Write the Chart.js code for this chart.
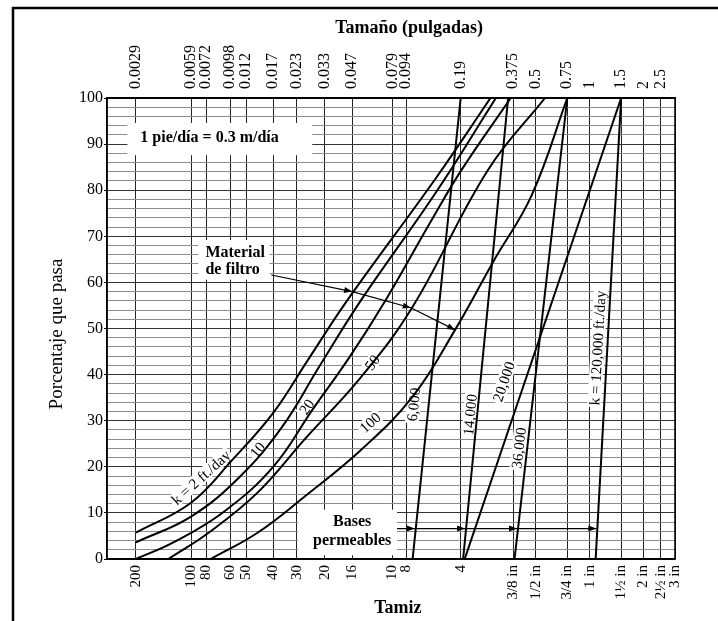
<!DOCTYPE html>
<html>
<head>
<meta charset="utf-8">
<title>Material de filtro - granulometría</title>
<script src="https://cdn.jsdelivr.net/npm/chart.js@4.4.1/dist/chart.umd.min.js"></script>
<style>
    html, body { margin: 0; padding: 0; background: #fff; }
    #wrap { width: 718px; height: 621px; position: relative; }
</style>
</head>
<body>
<div id="wrap"><canvas id="grad-chart"></canvas></div>
<script>
// tamices (eje inferior) y tamaños en pulgadas (eje superior)
const sieveLabels = ['200', '100', '80', '60', '50', '40', '30', '20', '16', '10', '8', '4',
    '3/8 in', '1/2 in', '3/4 in', '1 in', '1½ in', '2 in', '2½ in', '3 in'];
const sieveSizes = [0.0029, 0.0059, 0.0072, 0.0098, 0.012, 0.017, 0.023, 0.033, 0.047, 0.079, 0.094, 0.19,
    0.375, 0.5, 0.75, 1, 1.5, 2, 2.5, 3];
const sizeLabels = ['0.0029', '0.0059', '0.0072', '0.0098', '0.012', '0.017', '0.023', '0.033', '0.047',
    '0.079', '0.094', '0.19', '0.375', '0.5', '0.75', '1', '1.5', '2', '2.5'];
const sizeValues = [0.0029, 0.0059, 0.0072, 0.0098, 0.012, 0.017, 0.023, 0.033, 0.047,
    0.079, 0.094, 0.19, 0.375, 0.5, 0.75, 1, 1.5, 2, 2.5];

// material de filtro (curvas), tamaño en pulgadas / % que pasa
const k2Size = [0.0029, 0.0059, 0.0101, 0.017, 0.0266, 0.0443, 0.1386, 0.279];
const k2Pass = [5.7, 12.2, 21.6, 31.7, 43.2, 56.2, 82.7, 100];
const k10Size = [0.0029, 0.0059, 0.0111, 0.0191, 0.0307, 0.0528, 0.1386, 0.299];
const k10Pass = [3.6, 9.2, 17.9, 28.7, 41.7, 56.2, 79.6, 100];
const k20Size = [0.0029, 0.0047, 0.0089, 0.017, 0.0282, 0.0456, 0.0724, 0.1288, 0.1921, 0.362];
const k20Pass = [0, 3.6, 10.1, 20.0, 32.4, 43.9, 56.2, 73.1, 84.4, 100];
const k50Size = [0.0044, 0.0074, 0.0139, 0.0254, 0.0528, 0.1023, 0.270, 0.563];
const k50Pass = [0, 5.7, 14.4, 25.9, 39.5, 54.7, 84.4, 100];
const k100Size = [0.0076, 0.0139, 0.0254, 0.0528, 0.1023, 0.1767, 0.289, 0.475, 0.75];
const k100Pass = [0, 5.7, 13.5, 23.7, 35.2, 49.7, 64.5, 79.0, 100];

// bases permeables (rectas)
const k6000Size = [0.1023, 0.19];
const k14000Size = [0.196, 0.35];
const k20000Size = [0.2, 1.5];
const k36000Size = [0.38, 0.75];
const k120000Size = [1.08, 1.5];
const linePass = [0, 100];

const SERIF = "'Liberation Serif', 'Times New Roman', serif";
Chart.defaults.font.family = SERIF;
Chart.defaults.color = '#000';

function toPoints(sizes, pass) {
    return sizes.map((s, i) => ({ x: s, y: pass[i] }));
}

function curve(label, sizes, pass) {
    return {
        label: label,
        data: toPoints(sizes, pass),
        borderColor: '#000',
        borderWidth: 2,
        pointRadius: 0,
        tension: 0.4,
        fill: false
    };
}

function straight(label, sizes) {
    return {
        label: label,
        data: toPoints(sizes, linePass),
        borderColor: '#000',
        borderWidth: 2,
        pointRadius: 0,
        tension: 0,
        fill: false
    };
}

// etiquetas sobre las curvas (en coordenadas de datos)
const curveLabels = [
    { text: 'k = 2 ft./day', x: 0.0067, y: 17.7, rot: -42 },
    { text: '10', x: 0.0139, y: 23.7, rot: -50 },
    { text: '20', x: 0.0262, y: 33.0, rot: -55 },
    { text: '50', x: 0.0609, y: 42.6, rot: -55 },
    { text: '100', x: 0.0592, y: 29.6, rot: -42 }
];
const lineLabels = [
    { text: '6,000', sizes: k6000Size, x: 0.1036, y: 33.5 },
    { text: '14,000', sizes: k14000Size, x: 0.2145, y: 31.3 },
    { text: '20,000', sizes: k20000Size, x: 0.331, y: 38.5 },
    { text: '36,000', sizes: k36000Size, x: 0.4013, y: 24.1 },
    { text: 'k = 120,000 ft./day', sizes: k120000Size, x: 1.107, y: 45.8 }
];

const whiteBoxes = [
    { x0: 0.0026, x1: 0.0281, y0: 87.6, y1: 94.6 },
    { x0: 0.00648, x1: 0.0162, y0: 60.6, y1: 69.2 },
    { x0: 0.0234, x1: 0.0837, y0: 0.8, y1: 10.7 }
];

function labelAngle(chart, item) {
    if (!item.sizes) return item.rot * Math.PI / 180;
    const xs = chart.scales.x, ys = chart.scales.y;
    const x0 = xs.getPixelForValue(item.sizes[0]), x1 = xs.getPixelForValue(item.sizes[1]);
    const y0 = ys.getPixelForValue(linePass[0]), y1 = ys.getPixelForValue(linePass[1]);
    return Math.atan2(y1 - y0, x1 - x0);
}

function arrowHead(ctx, x, y, ang) {
    ctx.save();
    ctx.translate(x, y);
    ctx.rotate(ang);
    ctx.beginPath();
    ctx.moveTo(0, 0);
    ctx.lineTo(-8, -3);
    ctx.lineTo(-8, 3);
    ctx.closePath();
    ctx.fill();
    ctx.restore();
}

const annotations = {
    id: 'annotations',
    beforeDraw(chart) {
        const ctx = chart.ctx;
        ctx.save();
        ctx.strokeStyle = '#000';
        ctx.lineWidth = 2.5;
        ctx.strokeRect(13, 8, chart.width + 40, chart.height + 40);
        ctx.restore();
    },
    beforeDatasetsDraw(chart) {
        const ctx = chart.ctx, xs = chart.scales.x, ys = chart.scales.y;
        ctx.save();
        ctx.fillStyle = '#fff';
        whiteBoxes.forEach(b => {
            const l = xs.getPixelForValue(b.x0), r = xs.getPixelForValue(b.x1);
            const t = ys.getPixelForValue(b.y1), bt = ys.getPixelForValue(b.y0);
            ctx.fillRect(l, t, r - l, bt - t);
        });
        ctx.font = '15px ' + SERIF;
        curveLabels.concat(lineLabels).forEach(item => {
            const w = ctx.measureText(item.text).width;
            ctx.save();
            ctx.translate(xs.getPixelForValue(item.x), ys.getPixelForValue(item.y));
            ctx.rotate(labelAngle(chart, item));
            ctx.fillRect(-w / 2 - 2, -7, w + 4, 14);
            ctx.restore();
        });
        ctx.restore();
    },
    afterDatasetsDraw(chart) {
        const ctx = chart.ctx, xs = chart.scales.x, ys = chart.scales.y;
        const area = chart.chartArea;
        ctx.save();
        ctx.fillStyle = '#000';
        ctx.strokeStyle = '#000';

        // textos rotados
        ctx.font = '15px ' + SERIF;
        ctx.textAlign = 'center';
        ctx.textBaseline = 'middle';
        curveLabels.concat(lineLabels).forEach(item => {
            ctx.save();
            ctx.translate(xs.getPixelForValue(item.x), ys.getPixelForValue(item.y));
            ctx.rotate(labelAngle(chart, item));
            ctx.fillText(item.text, 0, 1);
            ctx.restore();
        });

        // notas en negrita
        ctx.font = 'bold 16px ' + SERIF;
        ctx.textAlign = 'left';
        ctx.fillText('1 pie/día = 0.3 m/día', xs.getPixelForValue(0.00307), ys.getPixelForValue(91.3));
        ctx.fillText('Material', xs.getPixelForValue(0.0071), ys.getPixelForValue(66.4));
        ctx.fillText('de filtro', xs.getPixelForValue(0.0071), ys.getPixelForValue(62.7));
        ctx.textAlign = 'center';
        ctx.fillText('Bases', xs.getPixelForValue(0.047), ys.getPixelForValue(8.1));
        ctx.fillText('permeables', xs.getPixelForValue(0.047), ys.getPixelForValue(4.0));

        // flecha del material de filtro
        const mat = [[0.0166, 61.6], [0.047, 58.0], [0.0999, 54.5], [0.1767, 49.7]]
            .map(p => [xs.getPixelForValue(p[0]), ys.getPixelForValue(p[1])]);
        ctx.lineWidth = 1.2;
        ctx.beginPath();
        ctx.moveTo(mat[0][0], mat[0][1]);
        for (let i = 1; i < mat.length; i++) ctx.lineTo(mat[i][0], mat[i][1]);
        ctx.stroke();
        for (let i = 1; i < mat.length; i++) {
            arrowHead(ctx, mat[i][0], mat[i][1],
                Math.atan2(mat[i][1] - mat[i - 1][1], mat[i][0] - mat[i - 1][0]));
        }

        // flechas de las bases permeables
        const baseY = 6.6;
        const py = ys.getPixelForValue(baseY);
        const tips = [k6000Size, k14000Size, k36000Size, k120000Size].map(s => {
            const a = xs.getPixelForValue(s[0]), b = xs.getPixelForValue(s[1]);
            return a + (b - a) * baseY / 100 - 1;
        });
        ctx.beginPath();
        ctx.moveTo(xs.getPixelForValue(0.0837), py);
        ctx.lineTo(tips[tips.length - 1], py);
        ctx.stroke();
        tips.forEach(t => arrowHead(ctx, t, py, 0));

        // marco del área
        ctx.lineWidth = 1.5;
        ctx.strokeRect(area.left, area.top, area.right - area.left, area.bottom - area.top);
        ctx.restore();
    },
    afterDraw(chart) {
        const ctx = chart.ctx, area = chart.chartArea;
        const w = area.right - area.left;
        ctx.save();
        ctx.fillStyle = '#000';
        ctx.textAlign = 'center';
        ctx.textBaseline = 'middle';
        ctx.font = 'bold 18px ' + SERIF;
        ctx.fillText('Tamaño (pulgadas)', area.left + w * 0.532, 28);
        ctx.fillText('Tamiz', area.left + w * 0.512, 608);
        ctx.font = '19px ' + SERIF;
        ctx.translate(57, 334);
        ctx.rotate(-Math.PI / 2);
        ctx.fillText('Porcentaje que pasa', 0, 0);
        ctx.restore();
    }
};

const ctx = document.getElementById('grad-chart').getContext('2d');
new Chart(ctx, {
    type: 'line',
    data: {
        datasets: [
            curve('k = 2', k2Size, k2Pass),
            curve('k = 10', k10Size, k10Pass),
            curve('k = 20', k20Size, k20Pass),
            curve('k = 50', k50Size, k50Pass),
            curve('k = 100', k100Size, k100Pass),
            straight('k = 6,000', k6000Size),
            straight('k = 14,000', k14000Size),
            straight('k = 20,000', k20000Size),
            straight('k = 36,000', k36000Size),
            straight('k = 120,000', k120000Size)
        ]
    },
    options: {
        responsive: true,
        maintainAspectRatio: false,
        animation: false,
        events: [],
        layout: { padding: { left: 0, right: 43, top: 0, bottom: 0 } },
        plugins: {
            legend: { display: false },
            tooltip: { enabled: false }
        },
        scales: {
            x: {
                type: 'logarithmic',
                position: 'bottom',
                min: 0.002,
                max: 3,
                bounds: 'data',
                afterBuildTicks: s => { s.ticks = sieveSizes.map(v => ({ value: v })); },
                afterFit: s => { s.height = 62; },
                ticks: {
                    autoSkip: false,
                    minRotation: 90,
                    maxRotation: 90,
                    padding: 6,
                    font: { size: 15 },
                    callback: (v, i) => sieveLabels[i]
                },
                grid: { color: '#222', lineWidth: 1, drawTicks: false },
                border: { color: '#000', width: 1.5 }
            },
            x2: {
                type: 'logarithmic',
                position: 'top',
                min: 0.002,
                max: 3,
                bounds: 'data',
                afterBuildTicks: s => { s.ticks = sizeValues.map(v => ({ value: v })); },
                afterFit: s => { s.height = 98; },
                ticks: {
                    autoSkip: false,
                    minRotation: 90,
                    maxRotation: 90,
                    padding: 9,
                    labelOffset: 19,
                    font: { size: 16 },
                    callback: (v, i) => sizeLabels[i]
                },
                grid: { display: false, drawTicks: false },
                border: { color: '#000', width: 1.5 }
            },
            y: {
                min: 0,
                max: 100,
                position: 'left',
                afterFit: s => { s.width = 107; },
                ticks: {
                    stepSize: 2,
                    autoSkip: false,
                    padding: 1,
                    font: { size: 16 },
                    callback: v => (v % 10 === 0 ? v : '')
                },
                grid: {
                    color: c => (c.tick && c.tick.value % 10 === 0 ? '#333' : '#8c8c8c'),
                    tickColor: c => (c.tick && c.tick.value % 10 === 0 ? '#000' : 'rgba(0,0,0,0)'),
                    tickLength: 3,
                    lineWidth: 1
                },
                border: { color: '#000', width: 1.5 }
            }
        }
    },
    plugins: [annotations]
});
</script>
</body>
</html>
